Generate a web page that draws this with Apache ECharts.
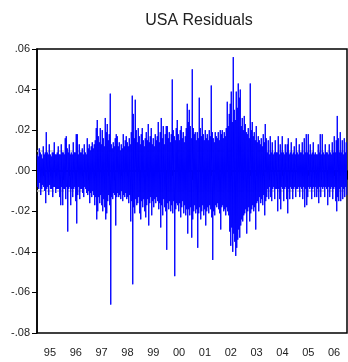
<!DOCTYPE html>
<html><head><meta charset="utf-8">
<script src="https://cdn.jsdelivr.net/npm/echarts/dist/echarts.min.js"></script>
<style>html,body{margin:0;padding:0;background:#fff}#c{width:348px;height:362px}</style>
</head><body><div id="c"></div>
<script>
const chartTitle = 'USA Residuals';
const yearLabels = ['95','96','97','98','99','00','01','02','03','04','05','06'];
const startYear = 1995, endYear = 2007;
const bandLevel = 0.0102;
// per-period high / low residuals
const highs = [
.008,.007,.011,.009,.008,.006,.012,.008,.009,.019,
.009,.008,.013,.008,.007,.009,.009,.014,.008,.008,
.009,.012,.008,.008,.013,.009,.009,.008,.016,.017,
.011,.009,.013,.008,.009,.008,.014,.009,.009,.018,
.018,.008,.013,.009,.009,.011,.008,.013,.009,.008,
.016,.011,.013,.010,.012,.014,.011,.013,.015,.021,
.025,.017,.014,.021,.013,.020,.016,.012,.026,.019,
.023,.015,.018,.038,.013,.011,.014,.012,.016,.018,
.017,.012,.014,.010,.013,.011,.018,.012,.015,.017,
.014,.012,.016,.013,.019,.037,.028,.016,.035,.020,
.014,.021,.017,.013,.018,.021,.015,.012,.016,.019,
.015,.023,.014,.017,.021,.013,.016,.012,.018,.015,
.017,.024,.014,.019,.026,.016,.022,.013,.018,.022,
.022,.016,.019,.014,.018,.045,.020,.017,.015,.021,
.025,.018,.015,.020,.022,.016,.019,.014,.017,.021,
.033,.024,.030,.022,.016,.050,.021,.018,.019,.015,
.019,.016,.036,.021,.017,.026,.018,.015,.020,.016,
.018,.015,.020,.017,.042,.019,.016,.014,.019,.017,
.016,.019,.015,.020,.018,.020,.016,.019,.017,.021,
.034,.022,.028,.033,.039,.024,.056,.030,.025,.039,
.031,.043,.036,.040,.022,.026,.020,.027,.023,.019,
.018,.021,.016,.043,.020,.024,.017,.019,.015,.022,
.014,.017,.015,.013,.016,.012,.018,.014,.023,.016,
.009,.015,.008,.017,.009,.014,.008,.009,.015,.009,
.009,.017,.008,.013,.009,.017,.009,.008,.013,.009,
.013,.016,.008,.009,.014,.008,.009,.012,.008,.016,
.009,.008,.013,.009,.009,.014,.008,.016,.009,.018,
.009,.018,.008,.013,.008,.009,.014,.008,.009,.008,
.008,.013,.009,.018,.008,.018,.009,.008,.013,.009,
.009,.008,.013,.009,.008,.014,.009,.017,.009,.015,
.027,.016,.009,.019,.009,.015,.008,.016,.009,.014
];
const lows = [
-.008,-.009,-.006,-.012,-.009,-.007,-.008,-.010,-.016,-.009,
-.008,-.012,-.007,-.009,-.009,-.013,-.008,-.008,-.011,-.009,
-.009,-.009,-.013,-.017,-.008,-.017,-.009,-.009,-.014,-.008,
-.030,-.009,-.008,-.017,-.009,-.013,-.009,-.008,-.015,-.026,
-.012,-.008,-.014,-.009,-.009,-.011,-.013,-.008,-.009,-.011,
-.012,-.010,-.016,-.011,-.013,-.010,-.012,-.017,-.013,-.024,
-.020,-.013,-.016,-.012,-.017,-.020,-.014,-.018,-.024,-.021,
-.015,-.012,-.017,-.066,-.013,-.014,-.011,-.012,-.027,-.013,
-.011,-.013,-.012,-.014,-.010,-.015,-.012,-.013,-.011,-.014,
-.013,-.016,-.012,-.025,-.015,-.056,-.018,-.021,-.014,-.017,
-.016,-.013,-.021,-.024,-.015,-.018,-.014,-.020,-.023,-.017,
-.014,-.027,-.016,-.013,-.022,-.015,-.018,-.014,-.016,-.013,
-.015,-.019,-.016,-.028,-.017,-.022,-.014,-.018,-.020,-.039,
-.016,-.019,-.015,-.020,-.017,-.021,-.015,-.052,-.019,-.016,
-.017,-.020,-.016,-.023,-.018,-.015,-.021,-.017,-.022,-.019,
-.031,-.019,-.022,-.018,-.033,-.024,-.020,-.017,-.021,-.019,
-.038,-.021,-.018,-.024,-.020,-.017,-.022,-.019,-.027,-.020,
-.018,-.021,-.017,-.019,-.023,-.044,-.020,-.022,-.017,-.018,
-.016,-.019,-.021,-.029,-.018,-.017,-.020,-.019,-.022,-.018,
-.020,-.022,-.030,-.037,-.028,-.040,-.031,-.035,-.042,-.038,
-.034,-.029,-.033,-.027,-.024,-.025,-.022,-.021,-.019,-.031,
-.020,-.018,-.025,-.021,-.019,-.017,-.020,-.018,-.029,-.016,
-.015,-.020,-.013,-.016,-.014,-.017,-.012,-.022,-.015,-.013,
-.009,-.014,-.008,-.013,-.015,-.009,-.008,-.014,-.009,-.009,
-.020,-.009,-.014,-.019,-.008,-.009,-.015,-.009,-.008,-.014,
-.021,-.009,-.014,-.008,-.009,-.014,-.009,-.008,-.013,-.009,
-.009,-.008,-.013,-.008,-.009,-.014,-.008,-.018,-.009,-.017,
-.013,-.008,-.009,-.008,-.014,-.009,-.008,-.013,-.008,-.013,
-.009,-.016,-.008,-.013,-.008,-.009,-.008,-.013,-.008,-.009,
-.017,-.008,-.013,-.009,-.008,-.014,-.009,-.008,-.015,-.020,
-.013,-.015,-.009,-.015,-.008,-.014,-.009,-.013,-.008,-.012
];

const n = highs.length;
const span = endYear - startYear;
const seriesData = [];
for (let i = 0; i < n; i++) {
  seriesData.push([startYear + (i + 0.25) * span / n, highs[i]]);
  seriesData.push([startYear + (i + 0.75) * span / n, lows[i]]);
}

const fontFam = '"Liberation Sans", Arial, sans-serif';
const chart = echarts.init(document.getElementById('c'), null, {renderer: 'canvas'});
chart.setOption({
  animation: false,
  backgroundColor: '#fff',
  title: {
    text: chartTitle, left: 194, top: 8, textAlign: 'center',
    textStyle: {fontFamily: fontFam, fontSize: 16, fontWeight: 'normal', color: '#222'}
  },
  grid: {left: 37, right: 1, top: 49, bottom: 29, show: true, borderColor: '#000', borderWidth: 1.5, backgroundColor: 'transparent'},
  xAxis: [{
    type: 'value', min: startYear, max: endYear, interval: 1, position: 'bottom',
    axisLine: {show: true, lineStyle: {color: '#000', width: 1.5}},
    axisTick: {show: true, length: 9, lineStyle: {color: '#000', width: 1}},
    minorTick: {show: true, splitNumber: 4, length: 5, lineStyle: {color: '#000', width: 1}},
    axisLabel: {show: false}, splitLine: {show: false}, minorSplitLine: {show: false}
  }, {
    type: 'category', data: yearLabels, position: 'bottom', boundaryGap: true,
    axisLine: {show: false}, axisTick: {show: false}, splitLine: {show: false},
    axisLabel: {interval: 0, margin: 14, fontFamily: fontFam, fontSize: 11, color: '#222'}
  }],
  yAxis: {
    type: 'value', min: -0.08, max: 0.06, interval: 0.02,
    axisLine: {show: true, lineStyle: {color: '#000', width: 1.5}},
    axisTick: {show: true, length: 5, lineStyle: {color: '#000'}},
    splitLine: {show: false},
    axisLabel: {
      margin: 7, fontFamily: fontFam, fontSize: 11, color: '#222',
      formatter: v => {
        const s = Math.abs(v).toFixed(2).replace(/^0/, '');
        return (v < -1e-9 ? '-' : '') + s;
      }
    }
  },
  series: [{
    type: 'line', data: [], z: 1, silent: true,
    markLine: {
      z: 1, silent: true, symbol: 'none', label: {show: false},
      lineStyle: {color: '#c8c8c8', type: [7, 3], width: 1.5},
      data: [{yAxis: bandLevel}, {yAxis: -bandLevel}]
    }
  }, {
    type: 'line', data: seriesData, xAxisIndex: 0, z: 3,
    showSymbol: false, symbol: 'none', sampling: null,
    lineStyle: {color: '#0000ff', width: 1},
    itemStyle: {color: '#0000ff'}
  }]
});
</script>
</body></html>
